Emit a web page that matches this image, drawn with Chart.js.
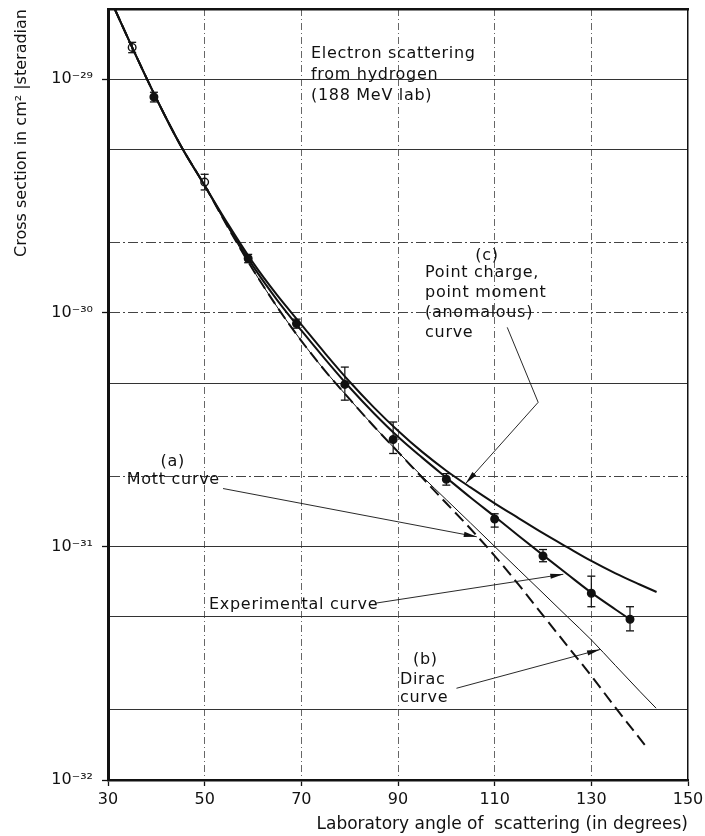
<!DOCTYPE html>
<html><head><meta charset="utf-8">
<script src="https://cdn.jsdelivr.net/npm/chart.js@4.4.1/dist/chart.umd.min.js"></script>
<style>html,body{margin:0;padding:0;background:#fff}canvas{display:block}</style>
</head><body>
<canvas id="c" width="705" height="836"></canvas>
<script>
// ---------- data ----------
const xTickValues = [30, 50, 70, 90, 110, 130, 150];
const yTickValues = [1e-32, 2e-32, 5e-32, 1e-31, 2e-31, 5e-31, 1e-30, 2e-30, 5e-30, 1e-29];
const yTickLabels = ['10\u207B\u00B3\u00B2', '', '', '10\u207B\u00B3\u00B9', '', '', '10\u207B\u00B3\u2070', '', '', '10\u207B\u00B2\u2079'];

// Experimental curve
const expCurveAngles = [31.4,35,40,45,50,55,60,65,70,75,80,85,90,95,100,105,110,115,120,125,130,135,138.2];
const expCurveValues = [2.0e-29,1.37e-29,8.28e-30,5.22e-30,3.51e-30,2.32e-30,1.585e-30,1.135e-30,8.41e-31,6.31e-31,4.79e-31,3.72e-31,2.95e-31,2.40e-31,1.97e-31,1.62e-31,1.343e-31,1.109e-31,9.18e-32,7.62e-32,6.34e-32,5.37e-32,4.84e-32];

// (c) Point charge, point moment (anomalous) curve
const anomAngles = [31.4,35,40,45,50,55,60,65,70,75,80,85,90,95,100,105,110,115,120,125,130,135,140,143.5];
const anomValues = [2.0e-29,1.37e-29,8.28e-30,5.22e-30,3.51e-30,2.37e-30,1.64e-30,1.19e-30,8.91e-31,6.68e-31,5.07e-31,3.94e-31,3.13e-31,2.54e-31,2.11e-31,1.79e-31,1.53e-31,1.32e-31,1.14e-31,9.93e-32,8.67e-32,7.67e-32,6.87e-32,6.38e-32];

// (a) Mott curve (heavy dashed)
const mottAngles = [31.4,35,40,45,50,55,60,65,70,75,80,85,90,95,100,105,110,115,120,125,130,135,141.1];
const mottValues = [2.0e-29,1.37e-29,8.28e-30,5.22e-30,3.51e-30,2.29e-30,1.53e-30,1.06e-30,7.59e-31,5.62e-31,4.27e-31,3.27e-31,2.54e-31,1.97e-31,1.53e-31,1.19e-31,9.12e-32,6.84e-32,5.07e-32,3.76e-32,2.79e-32,2.04e-32,1.41e-32];

// (b) Dirac curve (thin)
const diracAngles = [31.4,35,40,45,50,55,60,65,70,75,80,85,90,95,100,105,110,115,120,125,130,135,140,143.4];
const diracValues = [2.0e-29,1.37e-29,8.28e-30,5.22e-30,3.51e-30,2.29e-30,1.53e-30,1.06e-30,7.59e-31,5.62e-31,4.27e-31,3.27e-31,2.54e-31,1.995e-31,1.585e-31,1.26e-31,1.00e-31,7.94e-32,6.31e-32,5.01e-32,3.98e-32,3.09e-32,2.40e-32,2.03e-32];

// Measured points with error bars
const pointAngles = [35,39.5,50,59,69,79,89,100,110,120,130,138];
const pointValues = [1.37e-29,8.4e-30,3.63e-30,1.71e-30,9.0e-31,4.94e-31,2.87e-31,1.94e-31,1.31e-31,9.1e-32,6.3e-32,4.88e-32];
const pointErrLow = [1.30e-29,8.0e-30,3.36e-30,1.64e-30,8.6e-31,4.23e-31,2.50e-31,1.83e-31,1.21e-31,8.6e-32,5.52e-32,4.35e-32];
const pointErrHigh = [1.44e-29,8.8e-30,3.92e-30,1.78e-30,9.4e-31,5.86e-31,3.41e-31,2.05e-31,1.38e-31,9.7e-32,7.46e-32,5.52e-32];
const hollowPointAngles = [35, 50];

// ---------- styling / annotation layout ----------
const FONT = '"DejaVu Sans", sans-serif';
const INK = '#111';
const solidGrid = new Set([2e-32, 5e-32, 1e-31, 5e-31, 5e-30, 1e-29]);
const dashedGrid = new Set([2e-31, 1e-30, 2e-30]);

const notes = [
  {at:[72, 1.29e-29], lines:['Electron scattering','from hydrogen','(188 MeV lab)'], gap:21},
  {at:[108.4, 1.76e-30], lines:['(c)'], align:'center'},
  {at:[95.6, 1.48e-30], lines:['Point charge,','point moment','(anomalous)','curve'], gap:20},
  {at:[43.4, 2.30e-31], lines:['(a)'], align:'center'},
  {at:[33.9, 1.92e-31], lines:['Mott curve']},
  {at:[50.9, 5.61e-32], lines:['Experimental curve']},
  {at:[93.1, 3.26e-32], lines:['(b)']},
  {at:[90.4, 2.68e-32], lines:['Dirac','curve'], gap:18}
];
const leaders = [
  [[112.6, 8.67e-31], [119.0, 4.14e-31], [104.0, 1.86e-31]],
  [[53.8, 1.77e-31], [106.3, 1.10e-31]],
  [[85.2, 5.71e-32], [124.2, 7.6e-32]],
  [[102.1, 2.47e-32], [131.8, 3.62e-32]]
];

const toXY = (xs, ys) => xs.map((x, i) => ({x, y: ys[i]}));
const errData = [];
pointAngles.forEach((a, i) => {
  errData.push({x:a, y:pointErrLow[i]}, {x:a, y:pointErrHigh[i]}, {x:a, y:null});
});

const annotate = {
  id: 'annotate',
  afterDatasetsDraw(chart) {
    const {ctx} = chart;
    const xs = chart.scales.x, ys = chart.scales.y;
    const P = (p) => [xs.getPixelForValue(p[0]), ys.getPixelForValue(p[1])];
    ctx.save();
    ctx.fillStyle = INK;
    ctx.font = '16px ' + FONT;
    ctx.textBaseline = 'middle';
    try { ctx.letterSpacing = '0.7px'; } catch(e) {}
    for (const n of notes) {
      const [px, py] = P(n.at);
      ctx.textAlign = n.align || 'left';
      n.lines.forEach((s, i) => ctx.fillText(s, px, py + i * (n.gap || 20)));
    }
    try { ctx.letterSpacing = '0px'; } catch(e) {}
    ctx.strokeStyle = INK;
    ctx.lineWidth = 0.9;
    for (const l of leaders) {
      const pts = l.map(P);
      ctx.beginPath();
      ctx.moveTo(pts[0][0], pts[0][1]);
      for (let i = 1; i < pts.length; i++) ctx.lineTo(pts[i][0], pts[i][1]);
      ctx.stroke();
      const [x1, y1] = pts[pts.length - 2], [x2, y2] = pts[pts.length - 1];
      const ang = Math.atan2(y2 - y1, x2 - x1);
      const L = 13, W = 2.6;
      ctx.beginPath();
      ctx.moveTo(x2, y2);
      ctx.lineTo(x2 - L*Math.cos(ang) + W*Math.sin(ang), y2 - L*Math.sin(ang) - W*Math.cos(ang));
      ctx.lineTo(x2 - L*Math.cos(ang) - W*Math.sin(ang), y2 - L*Math.sin(ang) + W*Math.cos(ang));
      ctx.closePath();
      ctx.fill();
    }
    ctx.restore();
  }
};

const yTicksFromList = (scale) => { scale.ticks = yTickValues.map(v => ({value: v})); };
const noPadV = (s) => { s.paddingTop = 0; s.paddingBottom = 0; };
const noPadH = (s) => { s.paddingLeft = 0; s.paddingRight = 0; };

new Chart(document.getElementById('c'), {
  type: 'line',
  data: {
    datasets: [
      {label:'(c) Point charge, point moment (anomalous) curve', data: toXY(anomAngles, anomValues),
       borderColor: INK, borderWidth: 2, pointRadius: 0, cubicInterpolationMode: 'monotone', fill: false},
      {label:'Experimental curve', data: toXY(expCurveAngles, expCurveValues),
       borderColor: INK, borderWidth: 2, pointRadius: 0, cubicInterpolationMode: 'monotone', fill: false},
      {label:'(a) Mott curve', data: toXY(mottAngles, mottValues),
       borderColor: INK, borderWidth: 2, borderDash: [12, 6], pointRadius: 0, cubicInterpolationMode: 'monotone', fill: false},
      {label:'(b) Dirac curve', data: toXY(diracAngles, diracValues),
       borderColor: INK, borderWidth: 1, pointRadius: 0, cubicInterpolationMode: 'monotone', fill: false},
      {label:'error bars', data: errData, showLine: true, spanGaps: false,
       borderColor: INK, borderWidth: 1.2, pointStyle: 'line', pointRadius: 4,
       pointBorderColor: INK, pointBorderWidth: 1.3, fill: false},
      {label:'measured', data: toXY(pointAngles, pointValues), showLine: false,
       pointStyle: 'circle', pointRadius: 3.8, pointBorderWidth: 1.4, pointBorderColor: INK,
       pointBackgroundColor: (c) => (c.raw && hollowPointAngles.includes(c.raw.x)) ? '#fff' : INK}
    ]
  },
  options: {
    responsive: false,
    animation: false,
    devicePixelRatio: 1,
    layout: {padding: 0},
    plugins: {legend: {display: false}, tooltip: {enabled: false}},
    scales: {
      x: {
        type: 'linear', position: 'bottom', min: 30, max: 150,
        afterBuildTicks: (s) => { s.ticks = xTickValues.map(v => ({value: v})); },
        afterFit: (s) => { s.height = 56; noPadH(s); },
        ticks: {color: INK, font: {family: FONT, size: 16}, padding: 4, maxRotation: 0},
        grid: {color: (c) => (c.tick && (c.tick.value === 30 || c.tick.value === 150)) ? 'rgba(0,0,0,0)' : '#666',
               lineWidth: 1, drawTicks: true, tickLength: 6, tickColor: INK, tickWidth: 1.3},
        border: {display: true, color: INK, width: 2.5, dash: [7, 3, 1, 3]},
        title: {display: true, text: 'Laboratory angle of  scattering (in degrees)', align: 'end',
                color: INK, font: {family: FONT, size: 17}, padding: {top: 0, bottom: 1}}
      },
      xTop: {
        type: 'linear', position: 'top', min: 30, max: 150,
        afterFit: (s) => { s.height = 9; noPadH(s); },
        ticks: {display: false},
        grid: {display: false, drawTicks: false},
        border: {display: true, color: INK, width: 2.5}
      },
      y: {
        type: 'logarithmic', position: 'left', min: 1e-32, max: 2e-29,
        afterBuildTicks: yTicksFromList,
        afterFit: (s) => { s.width = 108; noPadV(s); },
        ticks: {color: INK, font: {family: FONT, size: 16}, padding: 9, autoSkip: false,
                callback: (v, i) => yTickLabels[i]},
        grid: {color: (c) => (c.tick && dashedGrid.has(c.tick.value)) ? '#444' : 'rgba(0,0,0,0)',
               lineWidth: 1, drawTicks: true, tickLength: 6,
               tickColor: (c) => (c.tick && yTickLabels[c.index]) ? INK : 'rgba(0,0,0,0)', tickWidth: 1.3},
        border: {display: true, color: INK, width: 3, dash: [10, 3, 2, 3]},
        title: {display: true, text: 'Cross section in cm\u00B2 |steradian', align: 'end',
                color: INK, font: {family: FONT, size: 16}, padding: {top: 12, bottom: 0}}
      },
      yRight: {
        type: 'logarithmic', position: 'right', min: 1e-32, max: 2e-29,
        afterBuildTicks: yTicksFromList,
        afterFit: (s) => { s.width = 17; noPadV(s); },
        ticks: {display: false},
        grid: {color: (c) => (c.tick && solidGrid.has(c.tick.value)) ? '#333' : 'rgba(0,0,0,0)',
               lineWidth: 1, drawTicks: false},
        border: {display: true, color: INK, width: 1.5}
      }
    }
  },
  plugins: [annotate]
});
</script>
</body></html>
